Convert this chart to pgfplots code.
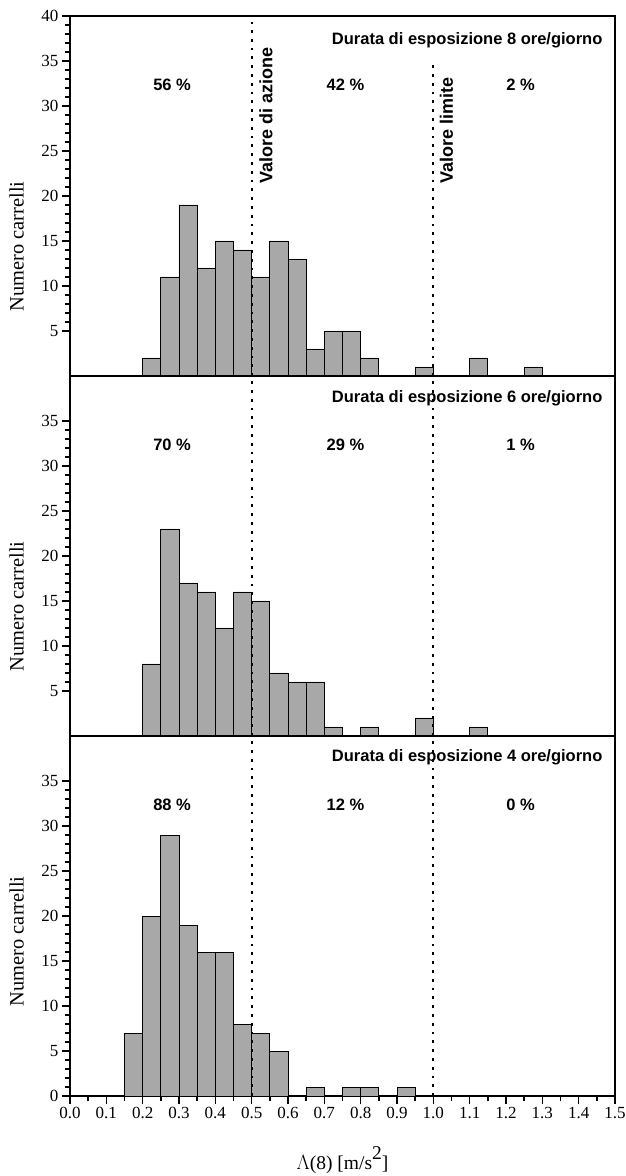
\documentclass[border=0pt]{standalone}
\usepackage{pgfplots}
\pgfplotsset{compat=1.18}
\usepackage{fontspec}
\setmainfont{Liberation Serif}
\newfontfamily\sansf{Liberation Sans}
\definecolor{barg}{RGB}{168,168,168}
\newcommand{\ann}{\sansf\bfseries\fontsize{16.5}{18}\selectfont}
\newcommand{\vann}{\sansf\bfseries\fontsize{18}{20}\selectfont}
\pgfplotsset{
  panel/.style={
    scale only axis, width=545pt, height=360pt,
    xmin=0, xmax=1.5, ymin=0, ymax=40,
    axis line style={line width=1.8pt},
    tick style={black, line width=1.5pt},
    major tick length=8pt, minor tick length=5pt,
    tick align=outside,
    ytick pos=left, xtick pos=lower,
    minor y tick num=4,
    tick label style={font=\fontsize{17}{17}\selectfont},
    /pgf/number format/assume math mode=true,
    ylabel={Numero carrelli},
    ylabel style={font=\fontsize{20.4}{21}\selectfont, anchor=center},
    clip=false,
  },
  bars/.style={ybar, bar width=0.05, fill=barg, draw=black, line width=0.7pt},
  limline/.style={black, line width=2pt, dash pattern=on 2.8pt off 6pt},
}
\begin{document}
\begin{tikzpicture}
\path[use as bounding box] (-70pt,-80pt) rectangle (555pt,1096pt);
% top panel
\begin{axis}[panel, at={(0,720pt)}, anchor=south west,
  ytick={5,10,...,40}, xtick=\empty,
  ylabel style={at={(axis description cs:-0.098,0.36)}}]
\addplot[bars] coordinates {(0.225,2)(0.275,11)(0.325,19)(0.375,12)(0.425,15)(0.475,14)(0.525,11)(0.575,15)(0.625,13)(0.675,3)(0.725,5)(0.775,5)(0.825,2)(0.975,1)(1.125,2)(1.275,1)};
\addplot[limline] coordinates {(0.5,0)(0.5,39.3)};
\addplot[limline] coordinates {(1.0,0)(1.0,35.1)};
\node[font=\ann, anchor=east] at (axis cs:1.475,37.3) {Durata di esposizione 8 ore/giorno};
\node[font=\ann] at (axis cs:0.281,32.3) {56 \%};
\node[font=\ann] at (axis cs:0.758,32.3) {42 \%};
\node[font=\ann] at (axis cs:1.24,32.3) {2 \%};
\node[font=\vann, rotate=90, anchor=south west, inner sep=0pt] at ([xshift=21pt]axis cs:0.5,21.4) {Valore di azione};
\node[font=\vann, rotate=90, anchor=south west, inner sep=0pt] at ([xshift=20pt]axis cs:1.0,21.4) {Valore limite};
\end{axis}
% middle panel
\begin{axis}[panel, at={(0,360pt)}, anchor=south west,
  ytick={5,10,...,35}, xtick=\empty,
  ylabel style={at={(axis description cs:-0.098,0.36)}}]
\addplot[bars] coordinates {(0.225,8)(0.275,23)(0.325,17)(0.375,16)(0.425,12)(0.475,16)(0.525,15)(0.575,7)(0.625,6)(0.675,6)(0.725,1)(0.825,1)(0.975,2)(1.125,1)};
\addplot[limline] coordinates {(0.5,0)(0.5,40)};
\addplot[limline] coordinates {(1.0,0)(1.0,40)};
\node[font=\ann, anchor=east] at (axis cs:1.475,37.5) {Durata di esposizione 6 ore/giorno};
\node[font=\ann] at (axis cs:0.281,32.3) {70 \%};
\node[font=\ann] at (axis cs:0.758,32.3) {29 \%};
\node[font=\ann] at (axis cs:1.24,32.3) {1 \%};
\end{axis}
% bottom panel
\begin{axis}[panel, at={(0,0)}, anchor=south west,
  ytick={0,5,...,35},
  xtick={0,0.1,...,1.5}, minor x tick num=1,
  xticklabel style={/pgf/number format/.cd, fixed, fixed zerofill, precision=1},
  ylabel style={at={(axis description cs:-0.098,0.43)}},
  xlabel={$\Lambda$(8) [m/s\raisebox{0.5em}{2}]},
  xlabel style={font=\fontsize{19.5}{20}\selectfont, at={(axis description cs:0.5,0)}, anchor=base, yshift=-73pt}]
\addplot[bars] coordinates {(0.175,7)(0.225,20)(0.275,29)(0.325,19)(0.375,16)(0.425,16)(0.475,8)(0.525,7)(0.575,5)(0.675,1)(0.775,1)(0.825,1)(0.925,1)};
\addplot[limline] coordinates {(0.5,0)(0.5,40)};
\addplot[limline] coordinates {(1.0,0)(1.0,40)};
\node[font=\ann, anchor=east] at (axis cs:1.475,37.6) {Durata di esposizione 4 ore/giorno};
\node[font=\ann] at (axis cs:0.281,32.3) {88 \%};
\node[font=\ann] at (axis cs:0.758,32.3) {12 \%};
\node[font=\ann] at (axis cs:1.24,32.3) {0 \%};
\end{axis}
\end{tikzpicture}
\end{document}
